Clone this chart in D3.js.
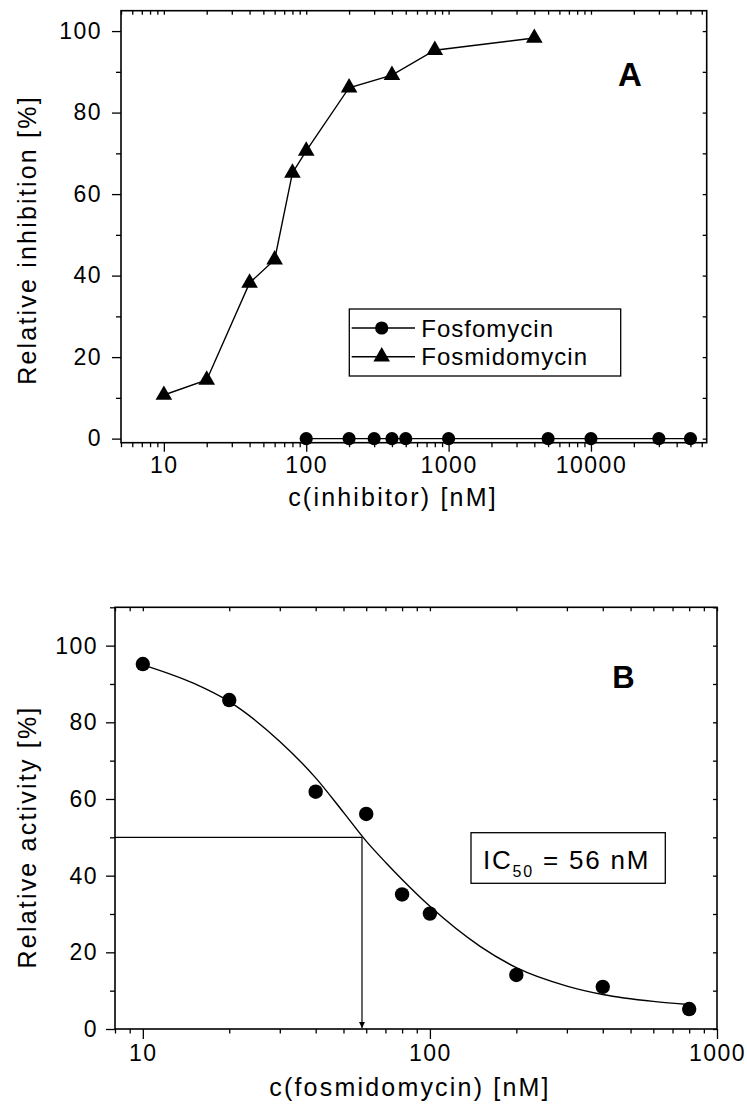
<!DOCTYPE html>
<html>
<head>
<meta charset="utf-8">
<script src="https://cdn.jsdelivr.net/npm/d3@7"></script>
<style>
  body { margin: 0; background: #fff; }
  svg { font-family: "Liberation Sans", Arial, sans-serif; }
  .tick text { font-size: 23px; letter-spacing: 1.5px; fill: #000; }
  .tick line { stroke: #000; stroke-width: 1.3; }
  .domain { display: none; }
  .frame { fill: none; stroke: #000; stroke-width: 1.6; }
  .title { font-size: 25px; letter-spacing: 2.2px; }
</style>
</head>
<body>
<div id="wrapper"></div>
<script>
// panel A: relative inhibition
const fosfomycinConc = [100, 200, 300, 400, 500, 1000, 5000, 10000, 30000, 50000]
const fosfomycinInhib = [0, 0, 0, 0, 0, 0, 0, 0, 0, 0]
const fosmidomycinConc = [10, 20, 40, 60, 80, 100, 200, 400, 800, 4000]
const fosmidomycinInhib = [10.7, 14.4, 38.2, 43.9, 65.2, 70.6, 86.1, 89.2, 95.3, 98.3]
const legendLabels = ["Fosfomycin", "Fosmidomycin"]

// panel B: relative activity
const activityConc = [10, 20, 40, 60, 80, 100, 200, 400, 800]
const activityValue = [95.2, 85.8, 61.9, 56.1, 35.1, 30.1, 14.1, 11.0, 5.2]
const fitConc = [10, 15, 20, 30, 40, 50, 60, 70, 80, 100, 150, 200, 300, 400, 600, 800]
const fitValue = [95, 90.2, 85.4, 75, 65.5, 56.5, 49, 43.5, 39, 32, 21.5, 16, 11.2, 9, 7.2, 6.4]
const ic50Read = 58
const ic50Label = "56"

const yTicksA = d3.range(0, 101, 10)
const yTicksB = d3.range(0, 111, 10)

const width = 747
const height = 1113

const svg = d3.select("#wrapper").append("svg")
    .attr("width", width)
    .attr("height", height)

const defs = svg.append("defs")
defs.append("marker")
    .attr("id", "arrow")
    .attr("viewBox", "0 0 10 10")
    .attr("refX", 10)
    .attr("refY", 5)
    .attr("markerUnits", "userSpaceOnUse")
    .attr("markerWidth", 10)
    .attr("markerHeight", 6)
    .attr("orient", "auto")
  .append("path")
    .attr("d", "M0,0L10,5L0,10Z")
    .attr("fill", "#000")

const isMajor = d => Math.abs(Math.log10(d) - Math.round(Math.log10(d))) < 1e-9

function drawFrame(g, x, y, yTicks) {
  const [x0, x1] = x.range()
  const [y0, y1] = y.range()
  const xAll = x.ticks()
  const xMajor = xAll.filter(isMajor)
  const xMinor = xAll.filter(d => !isMajor(d))
  const yMajor = yTicks.filter(d => d % 20 == 0)
  const yMinor = yTicks.filter(d => d % 20 != 0)

  return { x0, x1, y0, y1, xAll, xMajor, xMinor, yMajor, yMinor }
}

function drawAxes(g, x, y, yTicks, opts) {
  const f = drawFrame(g, x, y, yTicks)

  g.append("g").attr("transform", `translate(0,${f.y0})`)
    .call(d3.axisBottom(x).tickValues(f.xMajor).tickSize(opts.majorX)
      .tickPadding(opts.padX).tickFormat(d3.format("d")))
  g.append("g").attr("transform", `translate(0,${f.y0})`)
    .call(d3.axisBottom(x).tickValues(f.xMinor).tickSize(4.5).tickFormat(""))
  g.append("g").attr("transform", `translate(0,${f.y1})`)
    .call(d3.axisTop(x).tickValues(f.xAll).tickSize(-4).tickFormat(""))

  g.append("g").attr("transform", `translate(${f.x0},0)`)
    .call(d3.axisLeft(y).tickValues(f.yMajor).tickSize(9)
      .tickPadding(opts.padY).tickFormat(d3.format("d")))
  g.append("g").attr("transform", `translate(${f.x0},0)`)
    .call(d3.axisLeft(y).tickValues(f.yMinor).tickSize(5).tickFormat(""))
  g.append("g").attr("transform", `translate(${f.x1},0)`)
    .call(d3.axisRight(y).tickValues(yTicks).tickSize(-4).tickFormat(""))

  g.append("rect")
    .attr("class", "frame")
    .attr("x", f.x0)
    .attr("y", f.y1)
    .attr("width", f.x1 - f.x0)
    .attr("height", f.y0 - f.y1)
}

// ---------- panel A ----------
const xA = d3.scaleLog().domain([5, 65000]).range([121, 706.7])
const yA = d3.scaleLinear().domain([-1, 105]).range([442.7, 10.7])
const gA = svg.append("g")

drawAxes(gA, xA, yA, yTicksA, { majorX: 9, padX: 5, padY: 10 })

const lineA = d3.line()
    .x(d => xA(d[0]))
    .y(d => yA(d[1]))

const fosfoPts = d3.zip(fosfomycinConc, fosfomycinInhib)
const fosmiPts = d3.zip(fosmidomycinConc, fosmidomycinInhib)

gA.append("path")
    .attr("d", lineA(fosfoPts))
    .attr("fill", "none")
    .attr("stroke", "#000")
    .attr("stroke-width", 1.4)
gA.append("path")
    .attr("d", lineA(fosmiPts))
    .attr("fill", "none")
    .attr("stroke", "#000")
    .attr("stroke-width", 1.4)

const circleSym = d3.symbol().type(d3.symbolCircle).size(Math.PI * 6.6 * 6.6)
const triSym = d3.symbol().type(d3.symbolTriangle).size(120)

gA.selectAll(".fosfo")
  .data(fosfoPts)
  .enter().append("path")
    .attr("class", "fosfo")
    .attr("d", circleSym)
    .attr("transform", d => `translate(${xA(d[0])},${yA(d[1])})`)
gA.selectAll(".fosmi")
  .data(fosmiPts)
  .enter().append("path")
    .attr("class", "fosmi")
    .attr("d", triSym)
    .attr("transform", d => `translate(${xA(d[0])},${yA(d[1])})`)

// legend
const legend = gA.append("g").attr("transform", "translate(349.3,309)")
legend.append("rect")
    .attr("width", 271.4)
    .attr("height", 67)
    .attr("fill", "#fff")
    .attr("stroke", "#000")
    .attr("stroke-width", 1.3)
const legendRows = legend.selectAll(".row")
  .data(legendLabels)
  .enter().append("g")
    .attr("transform", (d, i) => `translate(0,${19 + i * 28.7})`)
legendRows.append("line")
    .attr("x1", 2.4).attr("x2", 65.7)
    .attr("stroke", "#000").attr("stroke-width", 1.4)
legendRows.append("path")
    .attr("d", (d, i) => i == 0 ? circleSym() : triSym())
    .attr("transform", "translate(32.4,0)")
legendRows.append("text")
    .attr("x", 72)
    .attr("y", 8.5)
    .style("font-size", "24px")
    .style("letter-spacing", "1px")
    .text(d => d)

gA.append("text")
    .attr("x", 630)
    .attr("y", 86)
    .attr("text-anchor", "middle")
    .style("font-size", "33px")
    .style("font-weight", "bold")
    .text("A")

gA.append("text")
    .attr("class", "title")
    .attr("x", 393)
    .attr("y", 506)
    .attr("text-anchor", "middle")
    .text("c(inhibitor) [nM]")
gA.append("text")
    .attr("class", "title")
    .attr("transform", "translate(36,240) rotate(-90)")
    .attr("text-anchor", "middle")
    .text("Relative inhibition [%]")

// ---------- panel B ----------
const xB = d3.scaleLog().domain([8, 1000]).range([115, 717])
const yB = d3.scaleLinear().domain([0, 110]).range([1029, 607.3])
const gB = svg.append("g")

drawAxes(gB, xB, yB, yTicksB, { majorX: 10, padX: 6, padY: 8 })

const fitLine = d3.line()
    .x(d => xB(d[0]))
    .y(d => yB(d[1]))
    .curve(d3.curveMonotoneX)

gB.append("path")
    .attr("d", fitLine(d3.zip(fitConc, fitValue)))
    .attr("fill", "none")
    .attr("stroke", "#000")
    .attr("stroke-width", 1.4)

// IC50 guide lines
gB.append("line")
    .attr("x1", xB(8)).attr("x2", xB(ic50Read))
    .attr("y1", yB(50)).attr("y2", yB(50))
    .attr("stroke", "#000").attr("stroke-width", 1.2)
gB.append("line")
    .attr("x1", xB(ic50Read)).attr("x2", xB(ic50Read))
    .attr("y1", yB(50)).attr("y2", yB(0) - 1)
    .attr("stroke", "#000").attr("stroke-width", 1.2)
    .attr("marker-end", "url(#arrow)")

gB.selectAll(".act")
  .data(d3.zip(activityConc, activityValue))
  .enter().append("circle")
    .attr("class", "act")
    .attr("cx", d => xB(d[0]))
    .attr("cy", d => yB(d[1]))
    .attr("r", 7.2)

const box = gB.append("g").attr("transform", "translate(471,832.7)")
box.append("rect")
    .attr("width", 194.3)
    .attr("height", 50.6)
    .attr("fill", "#fff")
    .attr("stroke", "#000")
    .attr("stroke-width", 1.3)
const ic = box.append("text")
    .attr("x", 12)
    .attr("y", 36)
    .style("font-size", "26px")
    .style("letter-spacing", "1.8px")
ic.append("tspan").text("IC")
ic.append("tspan").attr("dy", 8).style("font-size", "16px").text("50")
ic.append("tspan").attr("dy", -8).text(` = ${ic50Label} nM`)

gB.append("text")
    .attr("x", 623.5)
    .attr("y", 688)
    .attr("text-anchor", "middle")
    .style("font-size", "31px")
    .style("font-weight", "bold")
    .text("B")

gB.append("text")
    .attr("class", "title")
    .attr("x", 410)
    .attr("y", 1096)
    .attr("text-anchor", "middle")
    .text("c(fosmidomycin) [nM]")
gB.append("text")
    .attr("class", "title")
    .attr("transform", "translate(36,837) rotate(-90)")
    .attr("text-anchor", "middle")
    .text("Relative activity [%]")
</script>
</body>
</html>
